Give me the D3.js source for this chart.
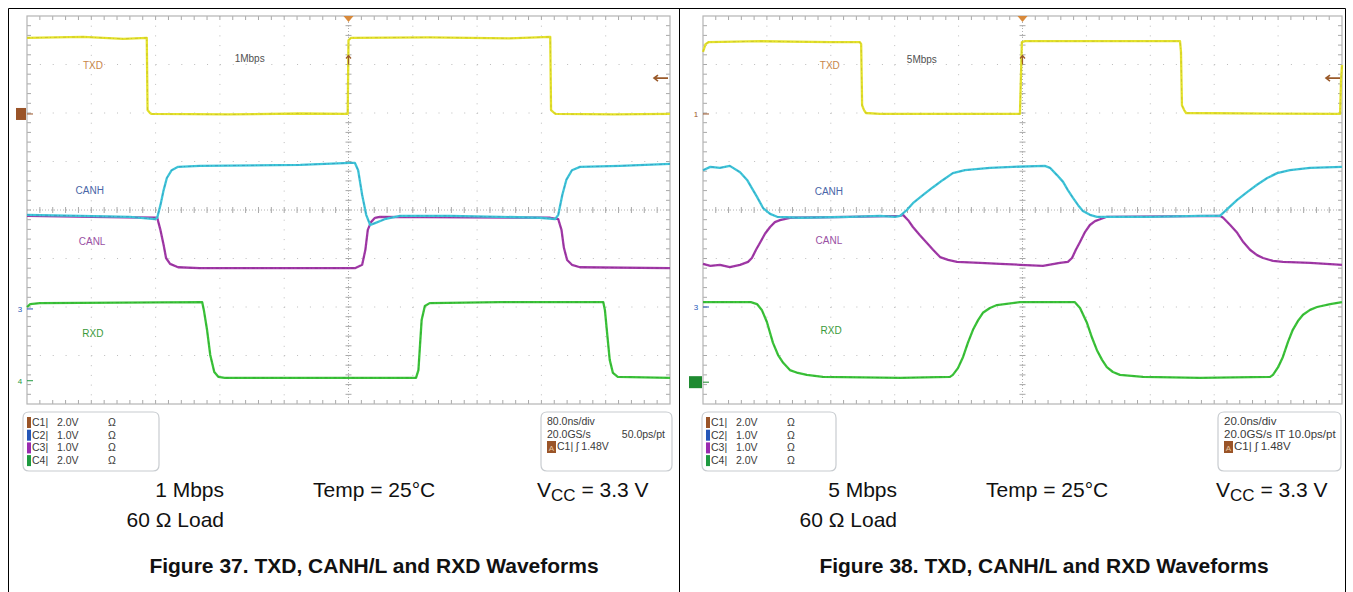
<!DOCTYPE html>
<html><head><meta charset="utf-8">
<script src="https://cdn.jsdelivr.net/npm/d3@7"></script>
<style>body{margin:0;background:#fff}svg{display:block}</style>
</head><body><svg id="c" width="1353" height="592"></svg>
<script>
// ---------- DATA (time in ns from trigger, level in screen divisions) ----------
const txd1 = [[-400,3.55],[-330,3.57],[-280,3.53],[-251,3.55],[-250,2.06],[-247,2.0],[-245,1.98],[-150,1.97],[-60,1.99],[-1,1.98],[0,3.50],[3,3.55],[100,3.56],[200,3.54],[251,3.57],[252,2.06],[256,2.0],[258,1.98],[330,1.97],[400,1.98]];
const canh1 = [[-400,-0.10],[-334,-0.12],[-272,-0.14],[-241,-0.19],[-238,-0.16],[-234,0.10],[-230,0.41],[-226,0.66],[-220,0.82],[-212,0.89],[-185,0.91],[-60,0.93],[2,0.97],[8,0.97],[12,0.82],[17,0.31],[22,-0.10],[27,-0.31],[33,-0.27],[45,-0.19],[64,-0.12],[126,-0.12],[189,-0.14],[238,-0.16],[257,-0.19],[261,-0.10],[266,0.31],[271,0.62],[278,0.82],[288,0.89],[338,0.91],[400,0.95]];
const canl1 = [[-400,-0.12],[-238,-0.16],[-234,-0.41],[-230,-0.72],[-227,-0.99],[-222,-1.11],[-212,-1.18],[-185,-1.20],[-60,-1.20],[8,-1.20],[17,-1.13],[21,-0.82],[24,-0.41],[28,-0.25],[33,-0.16],[39,-0.14],[251,-0.16],[261,-0.19],[265,-0.41],[268,-0.78],[272,-1.03],[278,-1.13],[288,-1.18],[400,-1.20]];
const rxd1 = [[-400,-2.0],[-396,-1.94],[-384,-1.92],[-182,-1.90],[-180,-2.06],[-176,-2.47],[-172,-2.99],[-167,-3.34],[-162,-3.44],[-154,-3.46],[-60,-3.46],[84,-3.46],[87,-3.30],[89,-2.78],[91,-2.27],[95,-1.98],[101,-1.92],[189,-1.90],[317,-1.90],[319,-2.06],[322,-2.58],[325,-3.09],[329,-3.36],[335,-3.44],[400,-3.46]];

const txd2 = [[-100,3.26],[-99.2,3.42],[-98.3,3.46],[-82,3.48],[-60,3.46],[-50.9,3.46],[-50.5,3.42],[-50.2,2.16],[-49.6,2.06],[-49,2.0],[-44.6,1.98],[-0.8,1.98],[-0.2,3.46],[0.8,3.48],[49.3,3.48],[49.6,3.26],[49.9,2.16],[50.6,2.06],[51.2,2.0],[99.4,1.98],[99.7,2.68],[100,2.99]];
const canh2 = [[-100,0.82],[-97.7,0.89],[-94.7,0.87],[-91.6,0.91],[-88.4,0.78],[-86.2,0.62],[-84.7,0.45],[-83.1,0.27],[-81.2,0.04],[-79,-0.08],[-76.8,-0.14],[-69.6,-0.16],[-54,-0.14],[-44.6,-0.12],[-39.9,-0.14],[-38.3,-0.12],[-36.2,0.0],[-34.3,0.14],[-31.1,0.31],[-28,0.47],[-24.9,0.62],[-21.8,0.76],[-18,0.82],[-10.2,0.87],[-3,0.89],[7,0.91],[8.6,0.87],[10.8,0.72],[12.7,0.58],[14.2,0.41],[15.8,0.25],[17.4,0.10],[18.9,-0.02],[21.1,-0.10],[23.3,-0.14],[39.9,-0.14],[55.6,-0.12],[61.8,-0.12],[64.4,0.04],[67.2,0.21],[70.3,0.37],[73.4,0.52],[76.6,0.66],[79.7,0.76],[83.7,0.82],[90,0.87],[100,0.89]];
const canl2 = [[-100,-1.11],[-97.7,-1.15],[-94.7,-1.13],[-91.6,-1.18],[-88.4,-1.13],[-85.9,-1.07],[-84.7,-0.99],[-83.4,-0.82],[-82.2,-0.68],[-80.6,-0.49],[-79,-0.35],[-77.5,-0.25],[-75.9,-0.21],[-72.8,-0.16],[-54,-0.14],[-38.3,-0.12],[-37.4,-0.10],[-35.8,-0.21],[-34.3,-0.35],[-32.1,-0.52],[-29.9,-0.68],[-28,-0.82],[-25.8,-0.97],[-23.3,-1.03],[-20.5,-1.07],[-13.3,-1.09],[-7,-1.11],[-0.8,-1.13],[6.4,-1.15],[11.7,-1.09],[14.2,-1.07],[15.5,-0.99],[16.7,-0.82],[18,-0.66],[19.6,-0.45],[21.1,-0.31],[22.7,-0.23],[24.3,-0.19],[26.4,-0.14],[61.8,-0.12],[62.8,-0.16],[65,-0.31],[67.2,-0.47],[69.1,-0.66],[71.2,-0.82],[73.4,-0.93],[75.3,-0.99],[78.4,-1.05],[81.5,-1.07],[90,-1.09],[100,-1.13]];
const rxd2 = [[-100,-1.90],[-85,-1.90],[-83.1,-1.94],[-81.6,-2.06],[-80,-2.31],[-78.1,-2.74],[-76.5,-2.99],[-74.9,-3.15],[-72.8,-3.30],[-70.3,-3.36],[-67.5,-3.40],[-62.5,-3.44],[-38.3,-3.46],[-22.7,-3.44],[-21.8,-3.40],[-20.2,-3.26],[-18.6,-3.03],[-17.1,-2.74],[-15.5,-2.47],[-13.9,-2.27],[-12.4,-2.12],[-10.2,-2.02],[-8,-1.96],[-0.8,-1.90],[16.4,-1.90],[18,-2.02],[20.2,-2.33],[21.8,-2.64],[23.3,-2.89],[24.9,-3.09],[26.4,-3.24],[28.3,-3.34],[30.5,-3.40],[37.7,-3.44],[55.6,-3.46],[77.5,-3.44],[78.4,-3.40],[80,-3.24],[81.5,-3.03],[83.1,-2.72],[84.6,-2.47],[86.2,-2.29],[87.8,-2.16],[90,-2.06],[92.2,-2.0],[96.3,-1.94],[100,-1.90]];

const channels = ["C1","C2","C3","C4"];
const voltsPerDiv = ["2.0V","1.0V","1.0V","2.0V"];
const traceLabels = ["TXD","CANH","CANL","RXD"];
const rates = ["1Mbps","5Mbps"];
const timebase = ["80.0ns/div","20.0ns/div"];
const sampleInfo = [["20.0GS/s","50.0ps/pt"],["20.0GS/s IT 10.0ps/pt",""]];
const triggerText = "C1| \u0283 1.48V";
const captionRate = ["1 Mbps","5 Mbps"];
const captionLoad = "60 \u03A9 Load";
const captionTemp = "Temp = 25\u00B0C";
const figTitles = ["Figure 37. TXD, CANH/L and RXD Waveforms","Figure 38. TXD, CANH/L and RXD Waveforms"];
const triggerLevelDiv = 2.72;   // C1 trigger level (1.48 V) in divisions
const c1GroundDiv = 1.98;
// label anchor positions (ns, div) per panel
const labelPos1 = [[-318,2.97],[-322,0.41],[-319,-0.64],[-318,-2.54]];
const labelPos2 = [[-60.3,2.97],[-60.6,0.39],[-60.6,-0.62],[-59.9,-2.49]];
const ratePos = [[-123,3.13],[-31.5,3.11]];

// ---------- DRAW ----------
const svg = d3.select("#c");
const FONT = "'Liberation Sans', Arial, Helvetica, sans-serif";
const NARROW = "'Liberation Sans Narrow','Arial Narrow','Liberation Sans',sans-serif";

svg.append("path").attr("d","M8.5,592 V8.5 H1345.5 V592 M679.5,8.5 V592")
  .attr("fill","none").attr("stroke","#000").attr("stroke-width",1);

const colors = {txd:"#e4e22c", canh:"#3ec6d8", canl:"#a23aa8", rxd:"#3cc43a"};
const dark = {txd:"#9a8a20", canh:"#2a4fa0", canl:"#6a1870", rxd:"#1f7a22"};
const labelColors = ["#c8864a","#4a66a8","#9a50a4","#3a9a3a"];
const swatch = ["#9a5428","#2556b8","#9a2cb0","#1e9a40"];

const panels = [
  {tdom:[-400,400], xr:[27,670], data:[canl1,canh1,txd1,rxd1], lab:labelPos1, idx:0,
   legendX:23, legendW:136, infoX:541, infoW:131, infoFont:10.5, capRateX:224, tempX:313, vccX:537, titleX:374},
  {tdom:[-100,100], xr:[703,1342], data:[canl2,canh2,txd2,rxd2], lab:labelPos2, idx:1,
   legendX:702, legendW:134, infoX:1218, infoW:123, infoFont:11.5, capRateX:897, tempX:986, vccX:1216, titleX:1044}
];

function boxPath(x, w, top, bot) {
  const r = 6;
  return `M${x},${bot-r} V${top+r} Q${x},${top} ${x+r},${top} H${x+w-r} Q${x+w},${top} ${x+w},${top+r} V${bot-r} Q${x+w},${bot} ${x+w-r},${bot} H${x+r} Q${x},${bot} ${x},${bot-r} Z`;
}

panels.forEach(p => {
  const g = svg.append("g");
  const x = d3.scaleLinear().domain(p.tdom).range(p.xr);
  const y = d3.scaleLinear().domain([-4,4]).range([404,16]);
  const divT = (p.tdom[1]-p.tdom[0])/10;
  const x0 = p.xr[0], x1 = p.xr[1], y0 = y(4), y1 = y(-4);
  const minorX = (x1-x0)/50, minorY = (y1-y0)/40;
  const gridC = "#bcbcbc";
  d3.range(1,10).forEach(i=>{
    const xx = x(p.tdom[0]+i*divT);
    g.append("line").attr("x1",xx).attr("x2",xx).attr("y1",y0).attr("y2",y1)
     .attr("stroke",gridC).attr("stroke-width",1).attr("stroke-dasharray",`1,${minorY-1}`);
  });
  d3.range(-3,4).forEach(v=>{
    const yy = y(v);
    g.append("line").attr("x1",x0).attr("x2",x1).attr("y1",yy).attr("y2",yy)
     .attr("stroke",gridC).attr("stroke-width",1).attr("stroke-dasharray",`1,${minorX-1}`);
  });
  const tk = g.append("g").attr("stroke","#a8a8a8").attr("stroke-width",1);
  d3.range(1,50).forEach(k=>{
    const xx = x0 + k*minorX;
    tk.append("line").attr("x1",xx).attr("x2",xx).attr("y1",y(0)-3).attr("y2",y(0)+3);
    tk.append("line").attr("x1",xx).attr("x2",xx).attr("y1",y0).attr("y2",y0+4);
    tk.append("line").attr("x1",xx).attr("x2",xx).attr("y1",y1-4).attr("y2",y1);
  });
  d3.range(1,40).forEach(k=>{
    const yy = y0 + k*minorY;
    tk.append("line").attr("x1",x(0)-3).attr("x2",x(0)+3).attr("y1",yy).attr("y2",yy);
    tk.append("line").attr("x1",x0).attr("x2",x0+4).attr("y1",yy).attr("y2",yy);
    tk.append("line").attr("x1",x1-4).attr("x2",x1).attr("y1",yy).attr("y2",yy);
  });
  g.append("line").attr("x1",x0).attr("x2",x1).attr("y1",y(0)).attr("y2",y(0))
    .attr("stroke","#b0b0b0").attr("stroke-dasharray","1,2");
  g.append("line").attr("x1",x(0)).attr("x2",x(0)).attr("y1",y0).attr("y2",y1)
    .attr("stroke","#b0b0b0").attr("stroke-dasharray","1,2");
  g.append("rect").attr("x",x0).attr("y",y0).attr("width",x1-x0).attr("height",y1-y0)
    .attr("fill","none").attr("stroke","#b4b4b4").attr("stroke-width",1.2);

  // traces
  const line = d3.line().x(d=>x(d[0])).y(d=>y(d[1]));
  const keys = ["canl","canh","txd","rxd"];
  p.data.forEach((d,i)=>{
    g.append("path").attr("d",line(d)).attr("fill","none").attr("stroke",colors[keys[i]])
      .attr("stroke-width",2.3).attr("stroke-linejoin","round");
    g.append("path").attr("d",line(d)).attr("fill","none").attr("stroke",dark[keys[i]])
      .attr("stroke-width",0.7).attr("stroke-opacity",0.45).attr("stroke-dasharray","3,2,1,3");
  });

  traceLabels.forEach((t,i)=>{
    g.append("text").attr("x",x(p.lab[i][0])).attr("y",y(p.lab[i][1])+3.5)
      .attr("text-anchor","middle").attr("font-family",NARROW).attr("font-size",10)
      .attr("fill",labelColors[i]).text(t);
  });
  g.append("text").attr("x",x(ratePos[p.idx][0])).attr("y",y(ratePos[p.idx][1])+3.5)
    .attr("text-anchor","middle").attr("font-family",NARROW).attr("font-size",10)
    .attr("fill","#505050").text(rates[p.idx]);

  // markers
  g.append("path").attr("d",`M${x(0)-5},${y0} h10 l-5,6 z`).attr("fill","#d8893a");
  g.append("path").attr("d",`M${x(0)},${y(3.0)} v-9 m-2.5,3 l2.5,-3 l2.5,3`)
    .attr("stroke","#9a5a2a").attr("fill","none").attr("stroke-width",1.2);
  g.append("path").attr("d",`M${x1-2},${y(triggerLevelDiv)} h-14 m4,-3 l-4,3 l4,3`)
    .attr("stroke","#9a5a2a").attr("fill","none").attr("stroke-width",1.6);
  if (p.idx===0) {
    g.append("rect").attr("x",x0-11).attr("y",y(c1GroundDiv)-6).attr("width",10).attr("height",12).attr("fill","#9a5428");
    g.append("path").attr("d",`M${x0},${y(c1GroundDiv)} h6`).attr("stroke","#9a5428");
    [["3",-2.04,"#2556b8"],["4",-3.52,"#1e9a40"]].forEach(m=>{
      g.append("text").attr("x",x0-7).attr("y",y(m[1])+3).attr("font-size",8).attr("font-family",FONT)
        .attr("text-anchor","middle").attr("fill",m[2]).text(m[0]);
      g.append("path").attr("d",`M${x0},${y(m[1])} h6`).attr("stroke",m[2]);
    });
  } else {
    [["1",c1GroundDiv,"#9a5428"],["3",-2.0,"#2556b8"]].forEach(m=>{
      g.append("text").attr("x",x0-7).attr("y",y(m[1])+3).attr("font-size",8).attr("font-family",FONT)
        .attr("text-anchor","middle").attr("fill",m[2]).text(m[0]);
      g.append("path").attr("d",`M${x0},${y(m[1])} h6`).attr("stroke",m[2]);
    });
    g.append("rect").attr("x",x0-14).attr("y",y(-3.55)-6).attr("width",13).attr("height",12).attr("fill","#1e8a30");
    g.append("path").attr("d",`M${x0},${y(-3.55)} h6`).attr("stroke","#1e8a30");
  }

  // legend box
  const lx = p.legendX;
  g.append("path").attr("d",boxPath(lx,p.legendW,412,471))
    .attr("fill","none").attr("stroke","#c8ccd0").attr("stroke-width",1.2);
  channels.forEach((c,i)=>{
    const by = 426 + i*12.7;
    g.append("rect").attr("x",lx+4).attr("y",by-9).attr("width",4).attr("height",11).attr("fill",swatch[i]);
    const t = g.append("g").attr("font-family",FONT).attr("font-size",10.5).attr("fill","#3a3a3a");
    t.append("text").attr("x",lx+9).attr("y",by).text(c+"|");
    t.append("text").attr("x",lx+34).attr("y",by).text(voltsPerDiv[i]);
    t.append("text").attr("x",lx+85).attr("y",by).text("\u03A9");
  });
  // info box
  const ix = p.infoX, iw = p.infoW, fs = p.infoFont;
  g.append("path").attr("d",boxPath(ix,iw,412,471))
    .attr("fill","none").attr("stroke","#c8ccd0").attr("stroke-width",1.2);
  const it = g.append("g").attr("font-family",FONT).attr("font-size",fs).attr("fill","#3a3a3a");
  it.append("text").attr("x",ix+6).attr("y",425).text(timebase[p.idx]);
  it.append("text").attr("x",ix+6).attr("y",438).text(sampleInfo[p.idx][0]);
  if (sampleInfo[p.idx][1]) it.append("text").attr("x",ix+iw-7).attr("y",438).attr("text-anchor","end").text(sampleInfo[p.idx][1]);
  g.append("rect").attr("x",ix+6).attr("y",441).attr("width",9).attr("height",12).attr("fill","#9a5428");
  g.append("text").attr("x",ix+10.5).attr("y",451).attr("text-anchor","middle").attr("font-size",8)
    .attr("font-family",FONT).attr("fill","#e8c8a0").text("A");
  it.append("text").attr("x",ix+16).attr("y",450).text(triggerText);

  // captions
  const cap = g.append("g").attr("font-family",FONT).attr("font-size",21).attr("fill","#111");
  cap.append("text").attr("x",p.capRateX).attr("y",497).attr("text-anchor","end").text(captionRate[p.idx]);
  cap.append("text").attr("x",p.capRateX).attr("y",527).attr("text-anchor","end").text(captionLoad);
  cap.append("text").attr("x",p.tempX).attr("y",497).text(captionTemp);
  const v = cap.append("text").attr("x",p.vccX).attr("y",497);
  v.append("tspan").text("V");
  v.append("tspan").attr("dy",4).attr("font-size",17).text("CC");
  v.append("tspan").attr("dy",-4).text(" = 3.3 V");
  g.append("text").attr("x",p.titleX).attr("y",573).attr("text-anchor","middle")
    .attr("font-family",FONT).attr("font-weight","bold").attr("font-size",21).attr("fill","#111")
    .text(figTitles[p.idx]);
});
</script></body></html>
